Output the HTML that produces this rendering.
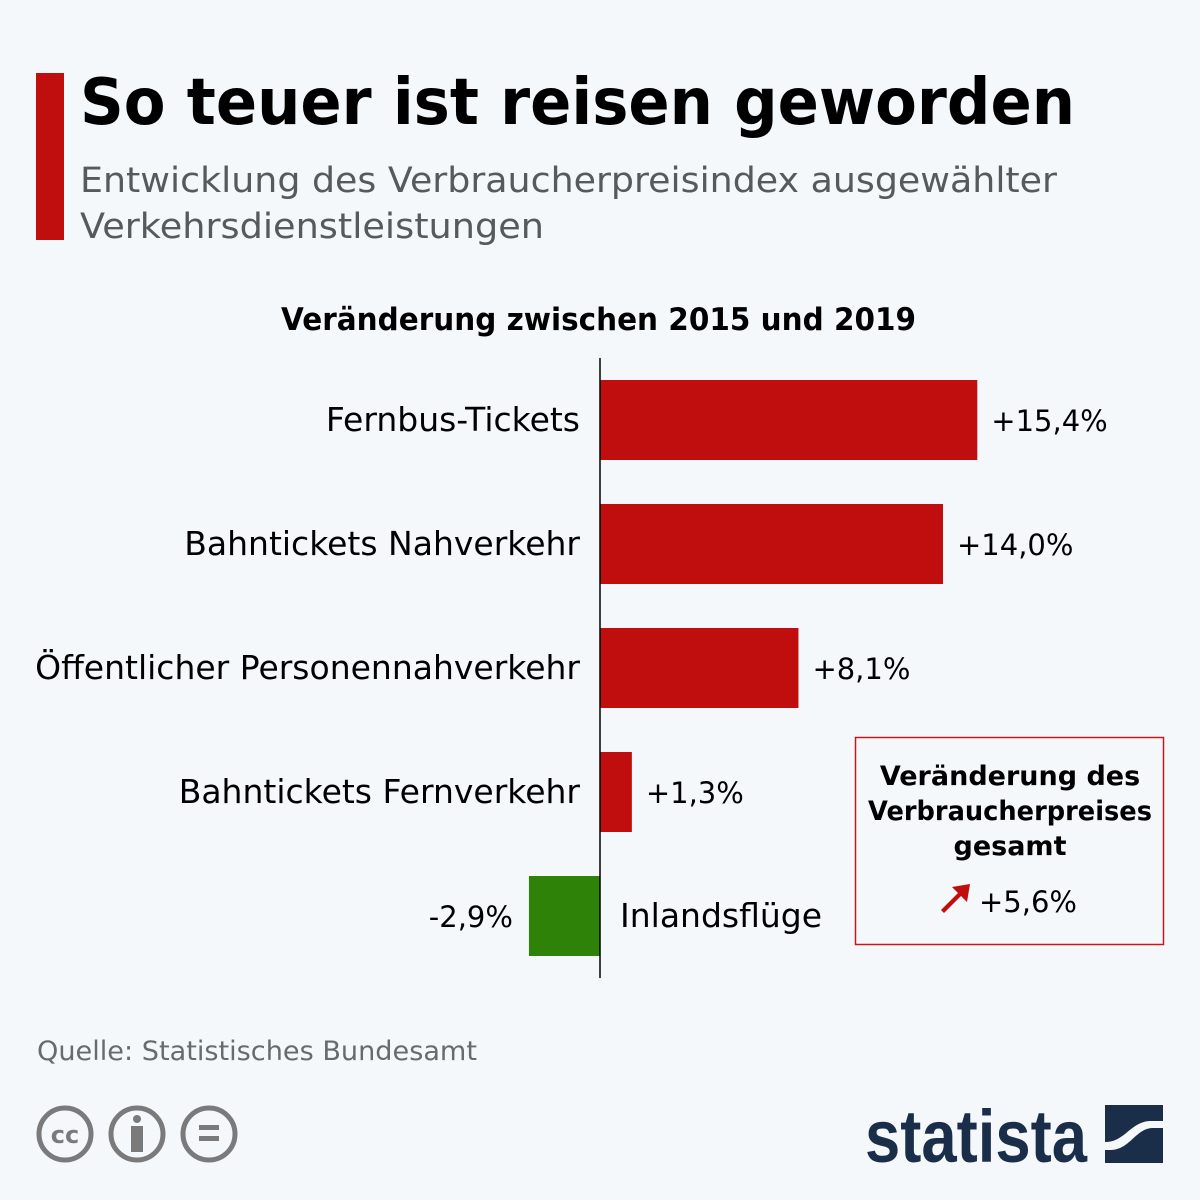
<!DOCTYPE html>
<html><head><meta charset="utf-8"><style>
html,body{margin:0;padding:0;background:#f5f8fb;}
svg{display:block;}
text{font-family:"DejaVu Sans","Liberation Sans",sans-serif;}
</style></head><body>
<svg id="chart" width="1200" height="1200" viewBox="0 0 1200 1200" xmlns="http://www.w3.org/2000/svg">
<rect width="1200" height="1200" fill="#f5f8fb"/>
<rect x="36" y="73" width="28" height="167" fill="#c00d0d"/>
<text x="80" y="124" font-size="64" font-weight="bold" fill="#000" textLength="995" lengthAdjust="spacingAndGlyphs">So teuer ist reisen geworden</text>
<text x="80" y="192" font-size="35" fill="#555a5e" textLength="977" lengthAdjust="spacingAndGlyphs">Entwicklung des Verbraucherpreisindex ausgewählter</text>
<text x="80" y="238" font-size="35" fill="#555a5e" textLength="464" lengthAdjust="spacingAndGlyphs">Verkehrsdienstleistungen</text>
<text x="281" y="330" font-size="31" font-weight="bold" fill="#000" textLength="635" lengthAdjust="spacingAndGlyphs">Veränderung zwischen 2015 und 2019</text>
<g id="bars"></g>
<line x1="600" y1="358" x2="600" y2="978" stroke="#000" stroke-width="1.5"/>
<g>
<rect x="855.5" y="737.5" width="308" height="207" fill="none" stroke="#c8161d" stroke-width="1.5"/>
<text x="1010" y="785" font-size="27" font-weight="bold" text-anchor="middle" fill="#000">Veränderung des</text>
<text x="1010" y="820" font-size="27" font-weight="bold" text-anchor="middle" fill="#000" textLength="284" lengthAdjust="spacingAndGlyphs">Verbraucherpreises</text>
<text x="1010" y="855" font-size="27" font-weight="bold" text-anchor="middle" fill="#000">gesamt</text>
<path d="M941 910 L958 893 L952 887 L970 884 L967 902 L961 896 L944 913 Z" fill="#c00d0d"/>
<text x="979" y="912" font-size="29" fill="#000">+5,6%</text>
</g>
<text x="37" y="1060" font-size="27" fill="#666b70" textLength="440" lengthAdjust="spacingAndGlyphs">Quelle: Statistisches Bundesamt</text>
<g fill="none" stroke="#7a7a7a" stroke-width="5">
<circle cx="65" cy="1134" r="26"/>
<text x="65" y="1143" font-size="24" font-weight="bold" fill="#7a7a7a" stroke="none" text-anchor="middle">cc</text>
<circle cx="137" cy="1134" r="26"/>
<circle cx="137" cy="1119" r="4" fill="#7a7a7a" stroke="none"/>
<rect x="131" y="1126" width="12" height="26" fill="#7a7a7a" stroke="none"/>
<circle cx="209" cy="1134" r="26"/>
<rect x="199" y="1125" width="20" height="5" fill="#7a7a7a" stroke="none"/>
<rect x="199" y="1136" width="20" height="5" fill="#7a7a7a" stroke="none"/>
</g>
<g>
<text x="865" y="1162" font-size="74" font-weight="bold" fill="#1a2e4a" textLength="222" lengthAdjust="spacingAndGlyphs" style="font-family:'Liberation Sans',sans-serif">statista</text>
<rect x="1105" y="1105" width="58" height="58" fill="#1a2e4a"/>
<path d="M1105 1142 C1125 1142 1130 1122 1150 1121 L1163 1121 L1163 1128 L1152 1128 C1135 1129 1130 1150 1110 1150 L1105 1150 Z" fill="#f5f8fb"/>
</g>
</svg>
<script>
const categories = ["Fernbus-Tickets","Bahntickets Nahverkehr","Öffentlicher Personennahverkehr","Bahntickets Fernverkehr","Inlandsflüge"];
const values = [15.4, 14.0, 8.1, 1.3, -2.9];
const valueLabels = ["+15,4%","+14,0%","+8,1%","+1,3%","-2,9%"];
const NS = "http://www.w3.org/2000/svg";
const x0 = 600, pxPerUnit = 24.5;
function xScale(v){ return x0 + v * pxPerUnit; }
function yBand(i){ return 380 + i * 124; }
const g = document.getElementById('bars');
categories.forEach((c, i) => {
  const v = values[i];
  const y = yBand(i);
  const xs = Math.min(xScale(0), xScale(v));
  const w = Math.abs(xScale(v) - xScale(0));
  const r = document.createElementNS(NS, 'rect');
  r.setAttribute('x', xs); r.setAttribute('y', y);
  r.setAttribute('width', w); r.setAttribute('height', 80);
  r.setAttribute('fill', v >= 0 ? '#c00d0d' : '#2d8207');
  
  
  g.appendChild(r);
  const lab = document.createElementNS(NS, 'text');
  lab.textContent = c;
  lab.setAttribute('y', y + 51);
  lab.setAttribute('font-size', '33');
  lab.setAttribute('fill', '#000');
  if (v >= 0) { lab.setAttribute('x', 580); lab.setAttribute('text-anchor', 'end'); }
  else { lab.setAttribute('x', 620); lab.setAttribute('text-anchor', 'start'); }
  
  
  g.appendChild(lab);
  const vl = document.createElementNS(NS, 'text');
  vl.textContent = valueLabels[i];
  vl.setAttribute('y', y + 51);
  vl.setAttribute('font-size', '29');
  vl.setAttribute('fill', '#000');
  if (v >= 0) { vl.setAttribute('x', xScale(v) + 14); vl.setAttribute('text-anchor', 'start'); }
  else { vl.setAttribute('x', xScale(v) - 16); vl.setAttribute('text-anchor', 'end'); }
  
  
  g.appendChild(vl);
});
</script>
</body></html>
